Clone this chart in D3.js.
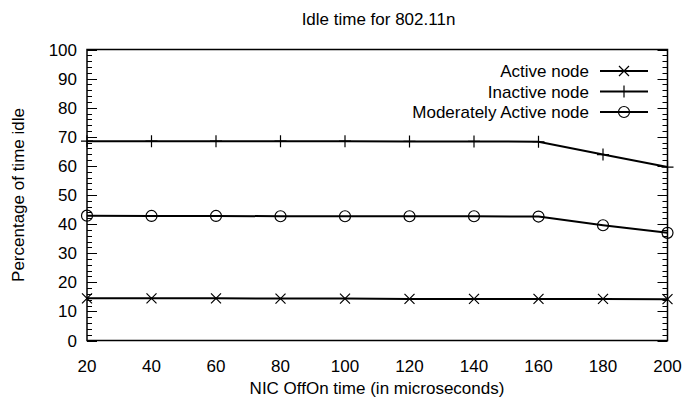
<!DOCTYPE html>
<html>
<head>
<meta charset="utf-8">
<script src="https://cdn.jsdelivr.net/npm/d3@7"></script>
<style>
  body { margin: 0; background: #fff; }
  text { font-family: "Liberation Sans", Arial, sans-serif; fill: #000; }
</style>
</head>
<body>
<div id="chart"></div>
<script>
// x values (NIC OffOn time, microseconds)
const offOn = [20, 40, 60, 80, 100, 120, 140, 160, 180, 200];
// idle percentages
const active = [14.5, 14.5, 14.5, 14.4, 14.4, 14.3, 14.3, 14.3, 14.3, 14.2];
const inactive = [68.5, 68.5, 68.5, 68.5, 68.5, 68.4, 68.4, 68.3, 63.9, 59.6];
const moderate = [42.9, 42.8, 42.8, 42.7, 42.7, 42.7, 42.7, 42.6, 39.6, 37.0];
const xTicks = [20, 40, 60, 80, 100, 120, 140, 160, 180, 200];
const yTicks = [0, 10, 20, 30, 40, 50, 60, 70, 80, 90, 100];

const series = [
    { name: "Active node", values: active, marker: "cross" },
    { name: "Inactive node", values: inactive, marker: "plus" },
    { name: "Moderately Active node", values: moderate, marker: "circle" }
];

const width = 697, height = 400;
const margin = { top: 49.5, right: 29.5, bottom: 59.5, left: 87 };
const fs = 17;

const svg = d3.select("#chart")
    .append("svg")
    .attr("width", width)
    .attr("height", height);

const x = d3.scaleLinear().domain([20, 200]).range([margin.left, width - margin.right]);
const y = d3.scaleLinear().domain([0, 100]).range([height - margin.bottom, margin.top]);

// minor + major ticks on both vertical sides, pointing inward
const minor = d3.range(0, 101, 2).filter(v => v % 10 !== 0);
const tickG = svg.append("g").attr("stroke", "#000").attr("stroke-width", 1);
[[x.range()[0], 1], [x.range()[1], -1]].forEach(([x0, dir]) => {
    tickG.selectAll(null).data(minor).enter().append("line")
        .attr("x1", x0).attr("x2", x0 + dir * 5)
        .attr("y1", d => Math.round(y(d)) + 0.5).attr("y2", d => Math.round(y(d)) + 0.5);
    tickG.selectAll(null).data(yTicks).enter().append("line")
        .attr("x1", x0).attr("x2", x0 + dir * 10)
        .attr("y1", d => Math.round(y(d)) + 0.5).attr("y2", d => Math.round(y(d)) + 0.5);
});

// frame
svg.append("rect")
    .attr("x", x.range()[0]).attr("y", y.range()[1])
    .attr("width", x.range()[1] - x.range()[0])
    .attr("height", y.range()[0] - y.range()[1])
    .attr("fill", "none").attr("stroke", "#000").attr("stroke-width", 1.5);

// tick labels
svg.append("g").selectAll("text").data(yTicks).enter().append("text")
    .attr("x", 77).attr("y", d => y(d) + 6)
    .attr("text-anchor", "end").attr("font-size", fs)
    .text(d => d);
svg.append("g").selectAll("text").data(xTicks).enter().append("text")
    .attr("x", d => x(d)).attr("y", 372)
    .attr("text-anchor", "middle").attr("font-size", fs)
    .text(d => d);

// titles
svg.append("text").attr("x", 378.5).attr("y", 24.5).attr("text-anchor", "middle")
    .attr("font-size", fs).text("Idle time for 802.11n");
svg.append("text").attr("x", 377).attr("y", 394).attr("text-anchor", "middle")
    .attr("font-size", fs).text("NIC OffOn time (in microseconds)");
svg.append("text").attr("transform", "translate(24,195) rotate(-90)")
    .attr("text-anchor", "middle").attr("font-size", fs).text("Percentage of time idle");

function drawMarker(g, type, cx, cy) {
    if (type === "cross") {
        g.append("path").attr("d", `M${cx - 5},${cy - 5}L${cx + 5},${cy + 5}M${cx - 5},${cy + 5}L${cx + 5},${cy - 5}`)
            .attr("stroke", "#000").attr("stroke-width", 1.2).attr("fill", "none");
    } else if (type === "plus") {
        g.append("path").attr("d", `M${cx - 6},${cy}L${cx + 6},${cy}M${cx},${cy - 6}L${cx},${cy + 6}`)
            .attr("stroke", "#000").attr("stroke-width", 1.2).attr("fill", "none");
    } else {
        g.append("circle").attr("cx", cx).attr("cy", cy).attr("r", 5.5)
            .attr("stroke", "#000").attr("stroke-width", 1.2).attr("fill", "none");
    }
}

const line = d3.line().x((d, i) => x(offOn[i])).y(d => y(d));
series.forEach(s => {
    const g = svg.append("g");
    g.append("path").datum(s.values).attr("d", line)
        .attr("fill", "none").attr("stroke", "#000").attr("stroke-width", 2);
    s.values.forEach((v, i) => drawMarker(g, s.marker, x(offOn[i]), y(v)));
});

// legend
const legendY = [71, 91.5, 112];
series.forEach((s, i) => {
    const g = svg.append("g");
    g.append("text").attr("x", 589).attr("y", legendY[i] + 6)
        .attr("text-anchor", "end").attr("font-size", fs).text(s.name);
    g.append("line").attr("x1", 600).attr("x2", 648)
        .attr("y1", legendY[i]).attr("y2", legendY[i])
        .attr("stroke", "#000").attr("stroke-width", 2);
    drawMarker(g, s.marker, 624, legendY[i]);
});
</script>
</body>
</html>
